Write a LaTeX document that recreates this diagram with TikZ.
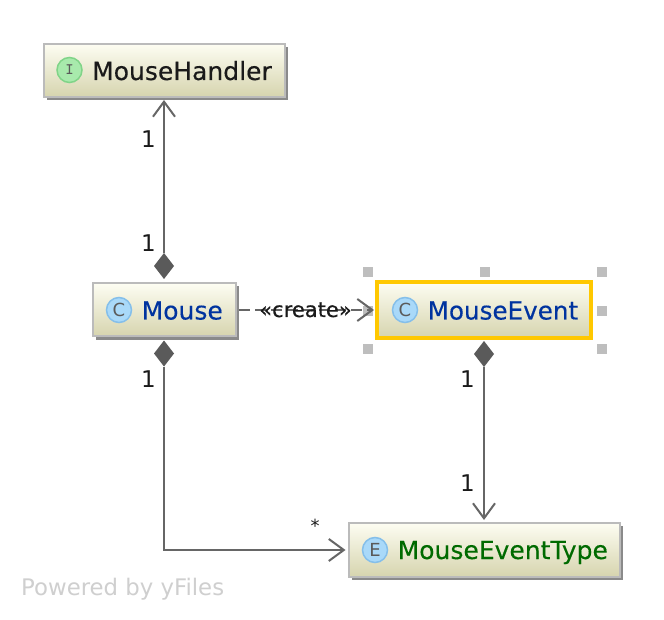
\documentclass[tikz,border=0pt]{standalone}
\usepackage{fontspec}
\setmainfont{DejaVu Sans}
\newfontfamily\heavy[FakeBold=0.25]{DejaVu Sans}
\usetikzlibrary{shapes.geometric,arrows.meta,shadows}
\definecolor{boxtop}{HTML}{FDFDF2}
\definecolor{boxbot}{HTML}{D6D4AE}
\definecolor{boxline}{HTML}{BBBBBB}
\definecolor{shadowc}{HTML}{8A8A8A}
\definecolor{edgec}{HTML}{666666}
\definecolor{diac}{HTML}{5A5A5A}
\definecolor{selc}{HTML}{FFC800}
\definecolor{handlec}{HTML}{BEBEBE}
\definecolor{txtblue}{HTML}{00339F}
\definecolor{txtgreen}{HTML}{006A00}
\definecolor{txtblack}{HTML}{1A1A1A}
\definecolor{iconb}{HTML}{A9D9F9}
\definecolor{iconbl}{HTML}{85BFEA}
\definecolor{icong}{HTML}{A8EAAC}
\definecolor{icongl}{HTML}{80D488}
\definecolor{yfilesc}{HTML}{CFCFCF}
\newcommand{\fsz}[1]{\fontsize{#1}{#1}\selectfont}
\tikzset{
  x=1pt,y=-1pt,
  umlbase/.style={rectangle,inner sep=0pt,outer sep=0pt,top color=boxtop,bottom color=boxbot},
  umlbox/.style={umlbase,draw=boxline,line width=2pt,
    drop shadow={shadow xshift=3pt,shadow yshift=-3pt,fill=shadowc,opacity=1}},
  selbox/.style={umlbase,draw=selc,line width=4pt},
  iconblue/.style={circle,draw=iconbl,fill=iconb,line width=1.5pt,minimum size=25pt,inner sep=0pt,font=\fsz{18},text=diac},
  icongreen/.style={circle,draw=icongl,fill=icong,line width=1.5pt,minimum size=25pt,inner sep=0pt,font=\fsz{16},text=diac},
  lbl/.style={anchor=base west,inner sep=0pt,font=\heavy\fsz{25}},
  mult/.style={inner sep=0pt,font=\fsz{23},text=txtblack},
  dia/.style={diamond,fill=diac,inner sep=0pt,outer sep=0pt,minimum width=20pt,minimum height=26pt},
  edge/.style={draw=edgec,line width=2pt},
  barb/.style={-{Straight Barb[length=15pt,width=22pt,line width=2pt]},shorten >=3pt},
  handle/.style={rectangle,fill=handlec,inner sep=0pt,minimum size=10pt},
}
\begin{document}
\begin{tikzpicture}
\useasboundingbox (0,0) rectangle (664,620);
\fill[white] (0,0) rectangle (664,620);
% selection handles
\node[handle] (h1) at (368,272.5) {};
\node[handle] (h2) at (485,272.5) {};
\node[handle] (h3) at (602,272.5) {};
\node[handle] (h4) at (368,311) {};
\node[handle] (h5) at (602,311) {};
\node[handle] (h6) at (368,348.5) {};
\node[handle] (h7) at (602,348.5) {};
% boxes
\node[umlbox,minimum width=241pt,minimum height=53pt] (mh) at (164,70.5) {};
\node[umlbox,minimum width=143pt,minimum height=53pt] (mo) at (164.5,310) {};
\node[selbox,minimum width=214pt,minimum height=56pt] (me) at (484,310) {};
\node[umlbox,minimum width=271pt,minimum height=54pt] (mt) at (484,550) {};
% icons
\node[icongreen] (i1) at (69.5,70) {\ttfamily\bfseries I};
\node[iconblue] (i2) at (119,310) {C};
\node[iconblue] (i3) at (405,310) {C};
\node[iconblue] (i4) at (375,550) {E};
% labels
\node[lbl,text=txtblack] (t1) at (92,80) {MouseHandler};
\node[lbl,text=txtblue] (t2) at (141.5,319.5) {Mouse};
\node[lbl,text=txtblue,xscale=0.985] (t3) at (427.5,319.5) {MouseEvent};
\node[lbl,text=txtgreen] (t4) at (397.5,559) {MouseEventType};
% diamonds
\node[dia] (d1) at (164,266) {};
\node[dia] (d2) at (164,353.5) {};
\node[dia] (d3) at (484,354) {};
% edges
\draw[edge,barb] (d1.north) -- (mh.south);
\draw[edge,barb] (d2.south) |- (mt.west);
\draw[edge,barb] (d3.south) -- (mt.north);
\draw[edge,barb,dashed,dash pattern=on 11pt off 5pt,shorten <=3pt] (mo.east) -- (me.west);
% edge labels
\node[inner sep=0pt,anchor=base,font=\heavy\fsz{21},text=txtblack] (cr) at (305.5,317) {«create»};
\node[mult] (m1) at (148.5,139) {1};
\node[mult] (m2) at (148.5,243) {1};
\node[mult] (m3) at (148.5,379) {1};
\node[mult] (m4) at (467.5,379) {1};
\node[mult] (m5) at (467.5,483) {1};
\node[inner sep=0pt,font=\fsz{18},text=txtblack] (m6) at (315,526) {*};
\node[inner sep=0pt,anchor=base west,font=\fsz{22.8},text=yfilesc] (yf) at (21,595) {Powered by yFiles};
\end{tikzpicture}
\end{document}
